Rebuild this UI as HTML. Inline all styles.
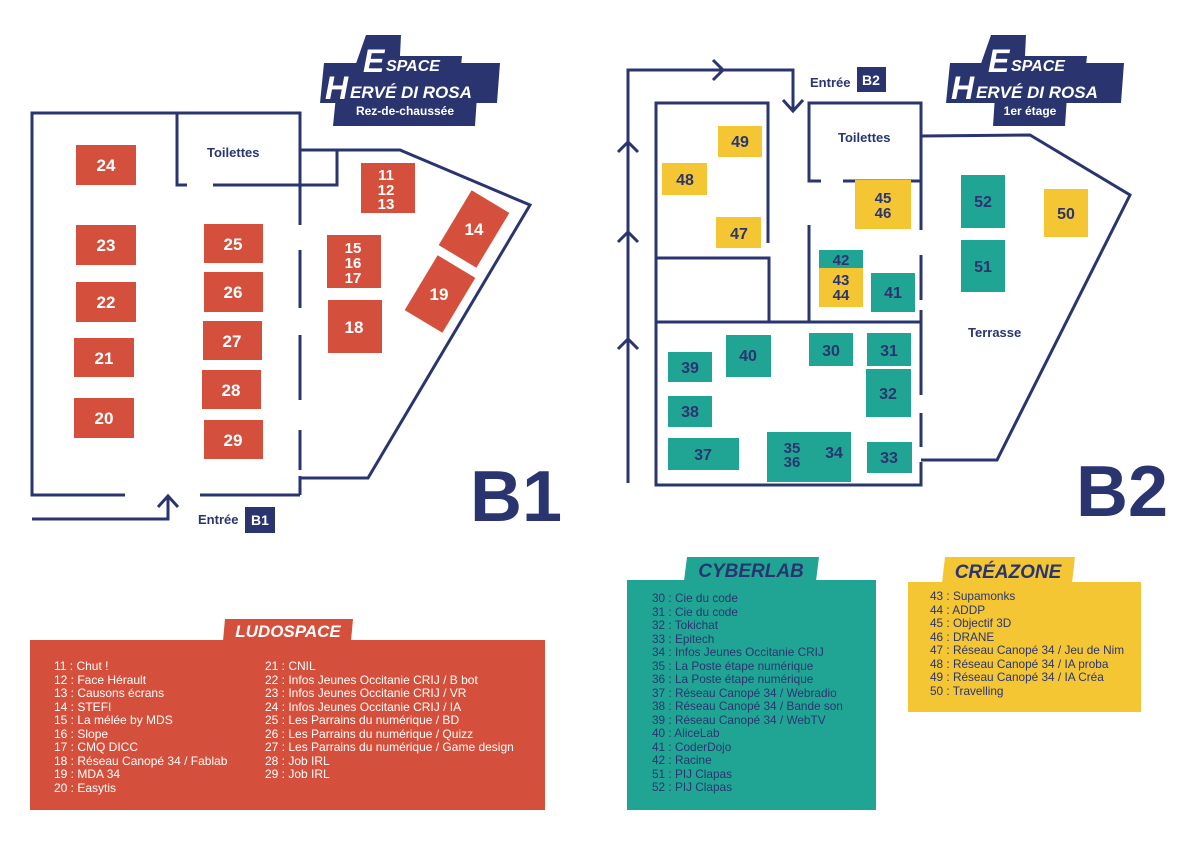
<!DOCTYPE html>
<html><head><meta charset="utf-8"><style>
html,body{margin:0;padding:0;background:#fff;}
svg{display:block}
text{font-family:"Liberation Sans",sans-serif;}
</style></head><body>
<svg width="1191" height="842" viewBox="0 0 1191 842" xmlns="http://www.w3.org/2000/svg">
<g fill="none" stroke="#2a3570" stroke-width="3">
<polyline points="125,495 32,495 32,113 300,113 300,225"/>
<line x1="200" y1="495" x2="300" y2="495"/>
<line x1="300" y1="250" x2="300" y2="308"/>
<line x1="300" y1="335" x2="300" y2="400"/>
<line x1="300" y1="430" x2="300" y2="470"/>
<line x1="300" y1="476" x2="300" y2="495"/>
<polyline points="187,185 177,185 177,113"/>
<polyline points="213,185 337,185 337,150"/>
<polyline points="300,150 400,150 530,205 368,478 300,478"/>
<polyline points="32,519 168,519 168,497"/>
<polyline points="158,507 168,496 178,507"/>
<polyline points="628,483 628,70 793,70 793,110"/>
<polyline points="783,100 793,111 803,100"/>
<polyline points="713,60 723,70 713,80"/>
<polyline points="618,152 628,142 638,152"/>
<polyline points="618,242 628,232 638,242"/>
<polyline points="618,349 628,339 638,349"/>
<polyline points="768,243 768,103 656,103 656,485 921,485 921,462"/>
<polyline points="656,258 769,258 769,322"/>
<line x1="656" y1="322" x2="921" y2="322"/>
<polyline points="821,181 809,181 809,103 921,103 921,230"/>
<line x1="843" y1="181" x2="921" y2="181"/>
<polyline points="809,225 809,322"/>
<line x1="921" y1="255" x2="921" y2="300"/>
<line x1="921" y1="310" x2="921" y2="395"/>
<line x1="921" y1="413" x2="921" y2="447"/>
<polyline points="921,136 1030,135 1130,195 997,460 921,460"/>
</g>
<g fill="#d5503c">
<rect x="76" y="145" width="60" height="40"/>
<rect x="76" y="225" width="60" height="40"/>
<rect x="76" y="282" width="60" height="40"/>
<rect x="74" y="338" width="60" height="39"/>
<rect x="74" y="398" width="60" height="40"/>
<rect x="204" y="224" width="59" height="39"/>
<rect x="204" y="272" width="59" height="40"/>
<rect x="203" y="321" width="59" height="39"/>
<rect x="202" y="370" width="59" height="39"/>
<rect x="204" y="420" width="59" height="39"/>
<rect x="361" y="163" width="54" height="50"/>
<rect x="327" y="235" width="54" height="53"/>
<rect x="328" y="300" width="54" height="53"/>
<rect x="-22" y="-32" width="44" height="64" transform="translate(474,229) rotate(31)"/>
<rect x="-22" y="-32" width="44" height="64" transform="translate(440,294) rotate(31)"/>
</g>
<g fill="#fff" font-size="17" font-weight="bold" text-anchor="middle">
<text x="106" y="171">24</text><text x="106" y="251">23</text><text x="106" y="308">22</text>
<text x="104" y="364">21</text><text x="104" y="424">20</text>
<text x="233" y="250">25</text><text x="233" y="298">26</text><text x="232" y="347">27</text>
<text x="231" y="396">28</text><text x="233" y="446">29</text>
<text x="386" y="180" font-size="15">11</text><text x="386" y="195" font-size="15">12</text><text x="386" y="209" font-size="15">13</text>
<text x="353" y="253" font-size="15">15</text><text x="353" y="268" font-size="15">16</text><text x="353" y="283" font-size="15">17</text>
<text x="354" y="333">18</text><text x="474" y="235">14</text><text x="439" y="300">19</text>
</g>
<g fill="#f4c634">
<rect x="718" y="126" width="44" height="31"/><rect x="662" y="163" width="45" height="32"/>
<rect x="716" y="217" width="45" height="31"/><rect x="855" y="180" width="56" height="49"/>
<rect x="1044" y="189" width="44" height="48"/><rect x="819" y="268" width="44" height="39"/>
</g>
<g fill="#20a595">
<rect x="961" y="175" width="44" height="53"/><rect x="961" y="240" width="44" height="52"/>
<rect x="819" y="250" width="44" height="18"/><rect x="871" y="273" width="44" height="39"/>
<rect x="668" y="352" width="44" height="30"/><rect x="726" y="335" width="45" height="42"/>
<rect x="809" y="333" width="44" height="33"/><rect x="867" y="333" width="44" height="33"/>
<rect x="866" y="369" width="45" height="48"/><rect x="668" y="396" width="44" height="31"/>
<rect x="668" y="438" width="71" height="32"/><rect x="767" y="432" width="84" height="50"/>
<rect x="867" y="442" width="45" height="31"/>
</g>
<g fill="#2a3570" font-size="16" font-weight="bold" text-anchor="middle">
<text x="740" y="147">49</text><text x="685" y="185">48</text><text x="739" y="239">47</text>
<text x="883" y="203" font-size="15">45</text><text x="883" y="218" font-size="15">46</text>
<text x="983" y="207">52</text><text x="1066" y="219">50</text><text x="983" y="272">51</text>
<text x="841" y="265" font-size="15">42</text><text x="841" y="285" font-size="15">43</text><text x="841" y="300" font-size="15">44</text>
<text x="893" y="298">41</text><text x="690" y="373">39</text><text x="748" y="361">40</text>
<text x="831" y="356">30</text><text x="889" y="356">31</text><text x="888" y="399">32</text>
<text x="690" y="417">38</text><text x="703" y="460">37</text>
<text x="792" y="453" font-size="15">35</text><text x="792" y="467" font-size="15">36</text>
<text x="834" y="458">34</text><text x="889" y="463">33</text>
</g>
<g fill="#2a3570" font-weight="bold" font-size="13">
<text x="207" y="157">Toilettes</text><text x="838" y="142">Toilettes</text>
<text x="968" y="337">Terrasse</text>
<text x="198" y="524">Entrée</text><text x="810" y="87">Entrée</text>
</g>
<rect x="245" y="507" width="30" height="26" fill="#2a3570"/>
<text x="260" y="525" fill="#fff" font-weight="bold" font-size="14" text-anchor="middle">B1</text>
<rect x="857" y="67" width="29" height="25" fill="#2a3570"/>
<text x="871" y="85" fill="#fff" font-weight="bold" font-size="14" text-anchor="middle">B2</text>
<text x="470" y="521" fill="#2a3570" font-weight="bold" font-size="72">B1</text>
<text x="1076" y="516" fill="#2a3570" font-weight="bold" font-size="72">B2</text>
<g>
<polygon points="366,35 401,35 400,56 462,56 460,75 352,75" fill="#2a3570"/>
<polygon points="324,63 500,63 497,103 320,103" fill="#2a3570"/>
<polygon points="336,96 477,96 475,126 333,126" fill="#2a3570"/>
<text x="363" y="72" fill="#fff" font-weight="bold" font-style="italic" font-size="32">E</text>
<text x="386" y="71" fill="#fff" font-weight="bold" font-style="italic" font-size="16">SPACE</text>
<text x="325" y="99" fill="#fff" font-weight="bold" font-style="italic" font-size="32">H</text>
<text x="350" y="98" fill="#fff" font-weight="bold" font-style="italic" font-size="17">ERVÉ DI ROSA</text>
<text x="405" y="115" fill="#fff" font-weight="bold" font-size="12" text-anchor="middle">Rez-de-chaussée</text>
</g>
<g>
<polygon points="991,35 1026,35 1025,56 1087,56 1085,75 977,75" fill="#2a3570"/>
<polygon points="950,63 1124,63 1121,103 946,103" fill="#2a3570"/>
<polygon points="995,96 1067,96 1065,126 993,126" fill="#2a3570"/>
<text x="988" y="72" fill="#fff" font-weight="bold" font-style="italic" font-size="32">E</text>
<text x="1011" y="71" fill="#fff" font-weight="bold" font-style="italic" font-size="16">SPACE</text>
<text x="951" y="99" fill="#fff" font-weight="bold" font-style="italic" font-size="32">H</text>
<text x="976" y="98" fill="#fff" font-weight="bold" font-style="italic" font-size="17">ERVÉ DI ROSA</text>
<text x="1030" y="115" fill="#fff" font-weight="bold" font-size="12" text-anchor="middle">1er étage</text>
</g>
<rect x="30" y="640" width="515" height="170" fill="#d5503c"/>
<polygon points="225,619 353,619 351,641 223,641" fill="#d5503c"/>
<text x="288" y="637" fill="#fff" font-weight="bold" font-style="italic" font-size="17" text-anchor="middle">LUDOSPACE</text>
<g fill="#fff" font-size="12">
<text x="54" y="670">11 : Chut !</text><text x="54" y="684">12 : Face Hérault</text>
<text x="54" y="697">13 : Causons écrans</text><text x="54" y="711">14 : STEFI</text>
<text x="54" y="724">15 : La mélée by MDS</text><text x="54" y="738">16 : Slope</text>
<text x="54" y="751">17 : CMQ DICC</text><text x="54" y="765">18 : Réseau Canopé 34  / Fablab</text>
<text x="54" y="778">19 : MDA 34</text><text x="54" y="792">20 : Easytis</text>
<text x="265" y="670">21 : CNIL</text><text x="265" y="684">22 : Infos Jeunes Occitanie CRIJ / B bot</text>
<text x="265" y="697">23 : Infos Jeunes Occitanie CRIJ / VR</text><text x="265" y="711">24 : Infos Jeunes Occitanie CRIJ / IA</text>
<text x="265" y="724">25 : Les Parrains du numérique / BD</text><text x="265" y="738">26 : Les Parrains du numérique / Quizz</text>
<text x="265" y="751">27 : Les Parrains du numérique / Game design</text><text x="265" y="765">28 : Job IRL</text>
<text x="265" y="778">29 : Job IRL</text>
</g>
<rect x="627" y="580" width="249" height="230" fill="#20a595"/>
<polygon points="687,557 819,557 816,581 684,581" fill="#20a595"/>
<text x="751" y="577" fill="#2a3570" font-weight="bold" font-style="italic" font-size="19" text-anchor="middle">CYBERLAB</text>
<g fill="#2a3570" font-size="11.8">
<text x="652" y="602">30 : Cie du code</text><text x="652" y="616">31 : Cie du code</text>
<text x="652" y="629">32 : Tokichat</text><text x="652" y="643">33 : Epitech</text>
<text x="652" y="656">34 : Infos Jeunes Occitanie CRIJ</text><text x="652" y="670">35 : La Poste étape numérique</text>
<text x="652" y="683">36 : La Poste étape numérique</text><text x="652" y="697">37 : Réseau Canopé 34 / Webradio</text>
<text x="652" y="710">38 : Réseau Canopé 34 / Bande son</text><text x="652" y="724">39 : Réseau Canopé 34  / WebTV</text>
<text x="652" y="737">40 : AliceLab</text><text x="652" y="751">41 : CoderDojo</text>
<text x="652" y="764">42 : Racine</text><text x="652" y="778">51 : PIJ Clapas</text>
<text x="652" y="791">52 : PIJ Clapas</text>
</g>
<rect x="908" y="582" width="233" height="130" fill="#f4c634"/>
<polygon points="945,557 1075,557 1072,583 942,583" fill="#f4c634"/>
<text x="1008" y="578" fill="#2a3570" font-weight="bold" font-style="italic" font-size="19" text-anchor="middle">CRÉAZONE</text>
<g fill="#2a3570" font-size="11.8">
<text x="930" y="600">43 : Supamonks</text><text x="930" y="614">44 : ADDP</text>
<text x="930" y="627">45 : Objectif 3D</text><text x="930" y="641">46 : DRANE</text>
<text x="930" y="654">47 : Réseau Canopé 34  / Jeu de Nim</text><text x="930" y="668">48 : Réseau Canopé 34 / IA proba</text>
<text x="930" y="681">49 : Réseau Canopé 34 / IA Créa</text><text x="930" y="695">50 : Travelling</text>
</g>
</svg>
</body></html>
